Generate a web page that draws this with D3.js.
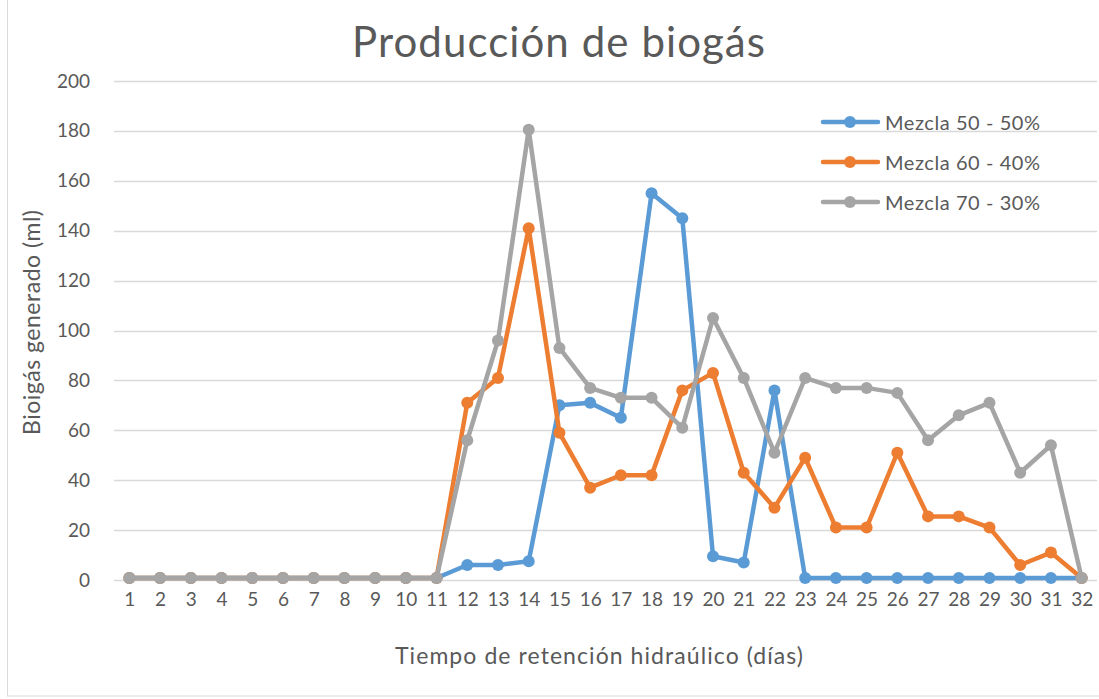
<!DOCTYPE html>
<html>
<head>
<meta charset="utf-8">
<script src="https://cdn.jsdelivr.net/npm/d3@7"></script>
<style>
  body { margin: 0; background: #fff; }
  text { font-family: Lato, "Open Sans", sans-serif; fill: #595959; }
</style>
</head>
<body>
<div id="container"></div>
<script>
/* CONSTANTS AND GLOBALS */
const width = 1099,
  height = 699,
  margin = { top: 81, bottom: 119, left: 114, right: 2 };

// DATA
const days = d3.range(1, 33).map(String);
const yTicks = [0, 20, 40, 60, 80, 100, 120, 140, 160, 180, 200];
const seriesNames = ["Mezcla 50 - 50%", "Mezcla 60 - 40%", "Mezcla 70 - 30%"];
const seriesColors = ["#5b9bd5", "#ed7d31", "#a5a5a5"];

const mezcla50 = [0.8, 0.8, 0.8, 0.8, 0.8, 0.8, 0.8, 0.8, 0.8, 0.8, 0.8, 6, 6, 7.5, 70, 71, 65, 155, 145, 9.5, 7, 76,
  0.8, 0.8, 0.8, 0.8, 0.8, 0.8, 0.8, 0.8, 0.8, 0.8];
const mezcla60 = [0.8, 0.8, 0.8, 0.8, 0.8, 0.8, 0.8, 0.8, 0.8, 0.8, 0.8, 71, 81, 141, 59, 37, 42, 42, 76, 83, 43, 29,
  49, 21, 21, 51, 25.5, 25.5, 21, 6, 11, 0.8];
const mezcla70 = [0.8, 0.8, 0.8, 0.8, 0.8, 0.8, 0.8, 0.8, 0.8, 0.8, 0.8, 56, 96, 180.5, 93, 77, 73, 73, 61, 105, 81, 51,
  81, 77, 77, 75, 56, 66, 71, 43, 54, 0.8];

const series = [mezcla50, mezcla60, mezcla70];

// SVG
const svg = d3.select("#container")
  .append("svg")
  .attr("width", width)
  .attr("height", height);

// chart border
svg.append("rect")
  .attr("x", 7.5).attr("y", -1)
  .attr("width", width).attr("height", height - 2)
  .attr("fill", "none")
  .attr("stroke", "#d9d9d9");

// SCALES
const x = d3.scalePoint()
  .domain(days)
  .range([margin.left, width - margin.right])
  .padding(0.5);

const y = d3.scaleLinear()
  .domain([0, 200])
  .range([height - margin.bottom, margin.top]);

// GRIDLINES
svg.append("g")
  .selectAll("line")
  .data(yTicks)
  .join("line")
  .attr("x1", margin.left)
  .attr("x2", width - margin.right)
  .attr("y1", d => Math.round(y(d)) + 0.5)
  .attr("y2", d => Math.round(y(d)) + 0.5)
  .attr("stroke", "#d9d9d9")
  .attr("stroke-width", 1.3);

// AXES
const yAxis = svg.append("g")
  .attr("transform", `translate(${margin.left},0)`)
  .call(d3.axisLeft(y).tickValues(yTicks).tickSize(0).tickPadding(24));
yAxis.select(".domain").remove();
yAxis.selectAll("text")
  .style("font-size", "19px")
  .attr("fill", "#595959");

const xAxis = svg.append("g")
  .attr("transform", `translate(0,${height - margin.bottom})`)
  .call(d3.axisBottom(x).tickSize(0).tickPadding(13));
xAxis.select(".domain").remove();
xAxis.selectAll("text")
  .style("font-size", "19px")
  .attr("fill", "#595959");

// TITLES
svg.append("text")
  .attr("x", 352)
  .attr("y", 57)
  .attr("textLength", 413)
  .attr("lengthAdjust", "spacing")
  .style("font-size", "42px")
  .text("Producción de biogás");

svg.append("text")
  .attr("x", 395)
  .attr("y", 664)
  .attr("textLength", 408)
  .attr("lengthAdjust", "spacing")
  .style("font-size", "23px")
  .text("Tiempo de retención hidraúlico (días)");

svg.append("text")
  .attr("transform", "translate(40,435) rotate(-90)")
  .attr("textLength", 225)
  .attr("lengthAdjust", "spacing")
  .style("font-size", "23px")
  .text("Bioigás generado (ml)");

// LINES
const lineGen = d3.line()
  .x((d, i) => x(days[i]))
  .y(d => y(d));

series.forEach((vals, s) => {
  svg.append("path")
    .datum(vals)
    .attr("d", lineGen)
    .attr("fill", "none")
    .attr("stroke", seriesColors[s])
    .attr("stroke-width", 4.5)
    .attr("stroke-linejoin", "round");

  svg.append("g")
    .selectAll("circle")
    .data(vals)
    .join("circle")
    .attr("cx", (d, i) => x(days[i]))
    .attr("cy", d => y(d))
    .attr("r", 6)
    .attr("fill", seriesColors[s]);
});

// LEGEND
const legend = svg.append("g")
  .selectAll("g")
  .data(seriesNames)
  .join("g")
  .attr("transform", (d, i) => `translate(823,${122 + i * 40})`);

legend.append("line")
  .attr("x1", 0).attr("x2", 55)
  .attr("stroke", (d, i) => seriesColors[i])
  .attr("stroke-width", 4.5)
  .attr("stroke-linecap", "round");

legend.append("circle")
  .attr("cx", 27)
  .attr("r", 6)
  .attr("fill", (d, i) => seriesColors[i]);

legend.append("text")
  .attr("x", 62)
  .attr("y", 8)
  .attr("textLength", 155)
  .attr("lengthAdjust", "spacing")
  .style("font-size", "20px")
  .text(d => d);
</script>
</body>
</html>
